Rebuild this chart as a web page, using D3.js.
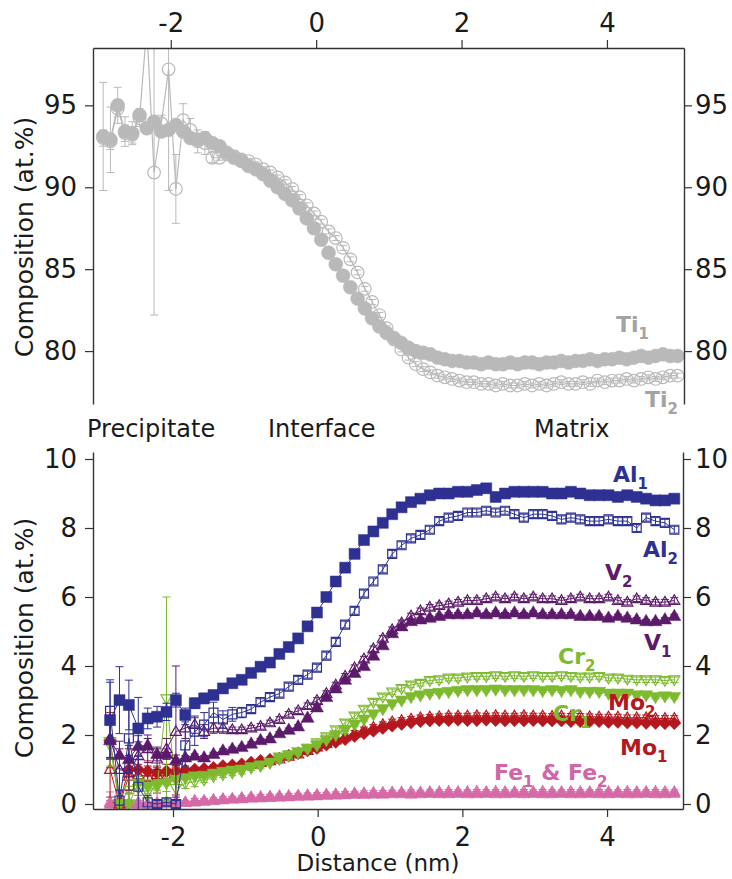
<!DOCTYPE html>
<html><head><meta charset="utf-8">
<script src="https://cdn.jsdelivr.net/npm/d3@7"></script>
<style>body{margin:0;background:#fff}svg{display:block}</style>
</head><body>
<script>
// ---------- DATA ----------
const topX = [-2.93,-2.83,-2.73,-2.63,-2.53,-2.43,-2.33,-2.23,-2.13,-2.03,-1.93,-1.83,-1.73,-1.63,-1.53,-1.43,-1.33,-1.23,-1.13,-1.03,-0.93,-0.83,-0.73,-0.63,-0.53,-0.43,-0.33,-0.23,-0.13,-0.03,0.07,0.17,0.27,0.37,0.47,0.57,0.67,0.77,0.87,0.97,1.07,1.17,1.27,1.37,1.47,1.57,1.67,1.77,1.87,1.97,2.07,2.17,2.27,2.37,2.47,2.57,2.67,2.77,2.87,2.97,3.07,3.17,3.27,3.37,3.47,3.57,3.67,3.77,3.87,3.97,4.07,4.17,4.27,4.37,4.47,4.57,4.67,4.77,4.87,4.97];
const ti1 = [93.1,92.9,95.0,93.4,93.3,94.4,93.6,94.0,93.4,93.5, 93.8,93.4,93.0,92.9,93.0,92.7,92.5,92.1,91.8,91.6, 91.3,91.1,90.8,90.4,90.0,89.6,89.2,88.7,88.1,87.5, 86.8,86.0,85.3,84.6,83.9,83.2,82.6,82.0,81.5,81.1, 80.8,80.5,80.2,80.0,79.9,79.8,79.6,79.5,79.4,79.4, 79.3,79.3,79.2,79.3,79.2,79.2,79.3,79.2,79.3,79.3, 79.2,79.3,79.3,79.4,79.3,79.4,79.4,79.5,79.4,79.5, 79.5,79.6,79.5,79.6,79.7,79.6,79.7,79.8,79.7,79.7];
const ti2 = [93.0,92.8,94.8,93.3,93.2,94.2,99.8,90.9,93.9,97.2, 89.9,94.1,93.5,92.8,92.7,91.8,91.8,92.0,91.9,91.7, 91.6,91.4,91.1,90.9,90.6,90.3,89.9,89.4,88.9,88.4, 87.9,87.3,86.9,86.3,85.6,84.8,83.8,83.0,82.2,81.4, 80.7,80.1,79.6,79.2,78.9,78.7,78.5,78.4,78.3,78.2, 78.1,78.1,78.0,78.0,77.9,78.0,77.9,77.9,78.0,77.9, 78.0,77.9,78.0,78.1,78.0,78.0,78.1,78.0,78.2,78.1, 78.2,78.2,78.3,78.2,78.3,78.4,78.3,78.4,78.5,78.5];
// error bars listed for the first bins; later bins use the small default
const ti1Err = [3.3,2.0,1.1,0.9,0.7,0.4,0.3,0.3,0.3,0.3,0.3,0.3,0.3,0.3,0.3];
const ti2Err = [0.5,0.5,0.5,0.5,0.5,0.5,0,8.7,0.5,7.4,2.1,1.0,0.7,0.7,0.7,0.3];
const tiErrDefault = 0.15;

const botX = [-2.87,-2.74,-2.61,-2.48,-2.35,-2.22,-2.09,-1.96,-1.83,-1.70,-1.57,-1.44,-1.31,-1.18,-1.05,-0.92,-0.79,-0.66,-0.53,-0.40,-0.27,-0.14,-0.01,0.12,0.25,0.38,0.51,0.64,0.77,0.90,1.03,1.16,1.29,1.42,1.55,1.68,1.81,1.94,2.07,2.20,2.33,2.46,2.59,2.72,2.85,2.98,3.11,3.24,3.37,3.50,3.63,3.76,3.89,4.02,4.15,4.28,4.41,4.54,4.67,4.80,4.93];
const al1 = [2.43,3.01,2.87,2.19,2.48,2.53,2.67,3.01,2.58,2.92, 3.06,3.16,3.35,3.5,3.6,3.8,3.98,4.1,4.35,4.55, 4.8,5.15,5.55,6.0,6.45,6.85,7.25,7.65,7.9,8.15, 8.4,8.6,8.75,8.85,8.95,9.0,9.0,9.05,9.05,9.1, 9.15,8.9,9.0,9.05,9.05,9.05,9.05,9.0,9.0,9.05, 9.0,8.95,8.95,8.95,8.9,8.95,8.9,8.85,8.8,8.8, 8.85];
const al2 = [2.7,0.1,1.9,0.5,0.05,0.0,0.05,0.0,1.7,2.1, 2.3,2.65,2.45,2.6,2.65,2.75,2.95,3.1,3.2,3.4, 3.6,3.75,3.95,4.3,4.7,5.2,5.6,6.1,6.45,6.8, 7.25,7.5,7.7,7.8,7.95,8.2,8.3,8.35,8.45,8.45, 8.5,8.45,8.5,8.4,8.3,8.4,8.4,8.35,8.25,8.3, 8.25,8.2,8.2,8.25,8.2,8.2,8.0,8.3,8.2,8.15, 7.95];
const v1 = [1.85,1.42,1.3,1.68,1.7,1.45,1.45,1.27,1.35,1.4, 1.35,1.45,1.55,1.6,1.65,1.75,1.85,1.9,2.05,2.15, 2.25,2.5,2.8,3.1,3.35,3.6,3.8,4.0,4.3,4.6, 4.95,5.15,5.3,5.35,5.4,5.45,5.5,5.5,5.5,5.55, 5.5,5.55,5.5,5.55,5.5,5.55,5.5,5.5,5.5,5.5, 5.45,5.45,5.45,5.4,5.45,5.4,5.35,5.3,5.3,5.35, 5.45];
const v2 = [1.9,1.0,0.9,1.4,1.6,1.3,1.6,2.1,2.2,2.3, 2.1,2.2,2.2,2.15,2.15,2.2,2.25,2.35,2.45,2.6, 2.7,2.85,3.0,3.2,3.45,3.7,3.95,4.2,4.5,4.8, 5.05,5.25,5.45,5.6,5.7,5.75,5.8,5.85,5.9,5.9, 5.95,6.0,5.95,6.0,5.95,6.0,5.95,5.95,5.9,5.95, 6.0,5.95,5.95,6.0,5.9,5.85,5.95,5.9,5.85,5.85, 5.9];
const cr1 = [1.8,0.0,0.0,0.6,0.5,0.55,0.6,0.7,0.75,0.8, 0.82,0.88,0.93,0.97,1.0,1.07,1.12,1.2,1.35,1.42, 1.5,1.6,1.7,1.85,2.0,2.15,2.3,2.45,2.6,2.75, 2.9,3.0,3.1,3.15,3.2,3.22,3.25,3.28,3.3,3.3, 3.3,3.32,3.3,3.3,3.3,3.3,3.28,3.3,3.28,3.3, 3.25,3.25,3.25,3.2,3.2,3.2,3.15,3.15,3.1,3.12, 3.1];
const cr2 = [1.7,0.0,0.4,0.45,0.35,0.5,3.05,0.45,0.6,0.65, 0.7,0.8,0.85,0.9,0.95,1.05,1.1,1.2,1.3,1.4, 1.5,1.62,1.78,1.95,2.15,2.35,2.55,2.75,2.95,3.1, 3.25,3.35,3.45,3.5,3.58,3.6,3.65,3.65,3.68,3.7, 3.7,3.72,3.7,3.72,3.7,3.72,3.7,3.7,3.72,3.7, 3.68,3.68,3.7,3.65,3.65,3.62,3.6,3.6,3.6,3.58, 3.6];
const mo1 = [1.85,0.05,1.0,1.0,0.95,0.9,0.95,0.95,0.98,1.0, 1.02,1.05,1.1,1.12,1.15,1.2,1.25,1.28,1.32,1.4, 1.47,1.55,1.62,1.72,1.8,1.88,1.97,2.05,2.12,2.2, 2.27,2.32,2.36,2.4,2.42,2.43,2.43,2.44,2.43,2.43, 2.44,2.43,2.42,2.43,2.42,2.43,2.42,2.42,2.42,2.4, 2.4,2.4,2.4,2.38,2.38,2.36,2.36,2.35,2.35,2.34, 2.34];
const mo2 = [1.0,0.0,0.8,0.85,0.8,0.85,0.8,0.9,0.95,0.95, 0.98,1.0,1.05,1.08,1.12,1.15,1.2,1.25,1.3,1.38, 1.45,1.55,1.65,1.75,1.85,1.95,2.05,2.15,2.22,2.3, 2.38,2.42,2.46,2.5,2.52,2.53,2.55,2.55,2.55,2.56, 2.55,2.56,2.55,2.55,2.56,2.55,2.55,2.54,2.55,2.54, 2.54,2.53,2.52,2.52,2.52,2.5,2.5,2.5,2.48,2.48, 2.48];
const fe1 = [0.0,0.0,0.0,0.0,0.02,0.0,0.03,0.04,0.05,0.06, 0.08,0.1,0.12,0.14,0.15,0.17,0.18,0.19,0.2,0.21, 0.22,0.23,0.24,0.25,0.26,0.27,0.28,0.28,0.29,0.29, 0.3,0.3,0.29,0.3,0.31,0.3,0.3,0.31,0.3,0.3, 0.31,0.3,0.3,0.31,0.3,0.31,0.3,0.3,0.31,0.3, 0.3,0.31,0.3,0.3,0.31,0.3,0.3,0.31,0.3,0.3, 0.31];
const fe2 = [0.05,0.0,0.02,0.05,0.0,0.04,0.06,0.08,0.05,0.1, 0.1,0.12,0.15,0.16,0.18,0.2,0.21,0.22,0.23,0.24, 0.25,0.26,0.27,0.28,0.29,0.3,0.31,0.32,0.33,0.33, 0.34,0.34,0.35,0.34,0.35,0.35,0.36,0.35,0.35,0.36, 0.35,0.36,0.35,0.35,0.36,0.35,0.36,0.35,0.35,0.36, 0.35,0.35,0.36,0.35,0.35,0.36,0.35,0.35,0.36,0.35, 0.35];
const al1Err = [1.1,0.97,0.72,0.9,0.3,0.3,0.25,0.2,0.2,0.15,0.15,0.1];
const al2Err = [0.9,0.3,1.0,0.8,0.2,0.1,0.1,0.1,0.6,0.4,0.35,0.3,0.25,0.2,0.15];
const v1Err = [0.5,0.4,0.4,0.3,0.2,0.2,0.15,0.15];
const v2Err = [0.6,0.6,0.5,0.4,0.4,0.3,0.3,1.9,0.3,0.25,0.2,0.15,0.15];
const cr1Err = [0.5,0.3,0.3,0.2,0.2,0.15];
const cr2Err = [0.6,0.3,0.3,0.2,0.2,0.2,2.95,0.2,0.15,0.15];
const mo1Err = [0.8,0.3,0.6,0.4,0.3,0.2,0.2,0.15];
const mo2Err = [0.8,0.3,0.5,0.3,0.3,0.2,0.2,0.15];
const fe1Err = [0.1,0.1,0.1,0.1];
const fe2Err = [0.3,0.2,0.3,0.2,0.2,0.3,0.3,0.2];

const xTicks = [-2,0,2,4];
const topYTicks = [80,85,90,95];
const botYTicks = [0,2,4,6,8,10];
const regionLabels = ["Precipitate","Interface","Matrix"];

// ---------- DRAWING ----------
const FONT = "'DejaVu Sans', Verdana, sans-serif";
const AX = "#333";
const svg = d3.select("body").append("svg").attr("width",732).attr("height",879);
const defs = svg.append("defs");
defs.append("clipPath").attr("id","clipT").append("rect").attr("x",93).attr("y",48).attr("width",591).attr("height",356);
defs.append("clipPath").attr("id","clipB").append("rect").attr("x",93).attr("y",452).attr("width",590).attr("height",357);

const xT = d3.scaleLinear().domain([-3.07,5.06]).range([93,684]);
const yT = d3.scaleLinear().domain([76.77,98.5]).range([404,48]);
const xB = d3.scaleLinear().domain([-3.106,5.05]).range([93,683]);
const yB = d3.scaleLinear().domain([-0.145,10.203]).range([809,452]);
const fmt = d => String(d);

const shapes = {
  circle: r => `M${-r},0A${r},${r} 0 1,0 ${r},0A${r},${r} 0 1,0 ${-r},0Z`,
  square: s => `M${-s},${-s}H${s}V${s}H${-s}Z`,
  triUp: s => `M0,${-s*1.05}L${s},${s*0.7}L${-s},${s*0.7}Z`,
  triDown: s => `M0,${s*1.05}L${s},${-s*0.7}L${-s},${-s*0.7}Z`,
  diamond: s => `M0,${-s}L${s},0L0,${s}L${-s},0Z`
};

function drawSeries(g, x, y, xs, vals, errs, errDef, o) {
  const pts = xs.map((xv,i)=>({x:xv, v:vals[i], e:(i<errs.length?errs[i]:errDef)}));
  const sg = g.append("g");
  sg.append("path").datum(pts)
    .attr("d", d3.line().x(d=>x(d.x)).y(d=>y(d.v)))
    .attr("fill","none").attr("stroke",o.color).attr("stroke-width",o.lw||1);
  const cw = o.cap||4;
  const eb = sg.append("g").attr("stroke",o.color).attr("stroke-width",1).attr("fill","none");
  pts.filter(d=>d.e>0).forEach(d=>{
    const px=x(d.x), y1=y(d.v+d.e), y2=y(d.v-d.e);
    eb.append("path").attr("d",`M${px},${y1}V${y2}M${px-cw},${y1}H${px+cw}M${px-cw},${y2}H${px+cw}`);
  });
  sg.append("g").selectAll("path").data(pts).join("path")
    .attr("transform",d=>`translate(${x(d.x)},${y(d.v)})`)
    .attr("d",shapes[o.shape](o.size))
    .attr("fill",o.open?"none":o.color)
    .attr("stroke",o.color).attr("stroke-width",o.open?1.2:0.5);
}

function styleAxis(sel){
  sel.select(".domain").attr("stroke",AX).attr("stroke-width",1.4);
  sel.selectAll(".tick line").attr("stroke",AX).attr("stroke-width",1.2);
  sel.selectAll(".tick text").attr("font-family",FONT).attr("font-size",26).attr("fill","#1a1a1a");
}

// ----- top panel -----
const gT = svg.append("g");
const dT = gT.append("g").attr("clip-path","url(#clipT)");
const tiColor = "#b9b9b9";
drawSeries(dT, xT, yT, topX, ti1, ti1Err, tiErrDefault, {color:tiColor, shape:"circle", size:7, cap:4, lw:1.2});
drawSeries(dT, xT, yT, topX, ti2, ti2Err, tiErrDefault, {color:tiColor, shape:"circle", size:6.3, open:true, cap:4, lw:1.2});

gT.append("g").attr("transform","translate(0,48)")
  .call(d3.axisTop(xT).tickValues(xTicks).tickSize(8).tickPadding(8).tickSizeOuter(0).tickFormat(fmt))
  .call(styleAxis);
gT.append("g").attr("transform","translate(93,0)")
  .call(d3.axisLeft(yT).tickValues(topYTicks).tickSize(8).tickPadding(8).tickSizeOuter(0).tickFormat(fmt))
  .call(styleAxis);
gT.append("g").attr("transform","translate(684,0)")
  .call(d3.axisRight(yT).tickValues(topYTicks).tickSize(8).tickPadding(3).tickSizeOuter(0).tickFormat(fmt))
  .call(styleAxis);

svg.append("text").attr("transform","translate(33,237) rotate(-90)").attr("text-anchor","middle")
  .attr("font-family",FONT).attr("font-size",25).attr("fill","#1a1a1a").text("Composition (at.%)");

const regionX = [87,268,534];
regionLabels.forEach((t,i)=>svg.append("text").attr("x",regionX[i]).attr("y",437)
  .attr("font-family",FONT).attr("font-size",24).attr("fill","#1a1a1a").text(t));

// ----- bottom panel -----
const gB = svg.append("g");
const dB = gB.append("g").attr("clip-path","url(#clipB)");
const C = {al:"#2e3192", v:"#5c1a6b", cr:"#7dba2f", mo:"#b4181e", fe:"#d56aa7"};
drawSeries(dB, xB, yB, botX, fe1, fe1Err, 0.04, {color:C.fe, shape:"triUp", size:6});
drawSeries(dB, xB, yB, botX, fe2, fe2Err, 0.06, {color:C.fe, shape:"triUp", size:5.5, open:true});
drawSeries(dB, xB, yB, botX, mo1, mo1Err, 0.05, {color:C.mo, shape:"diamond", size:6.5});
drawSeries(dB, xB, yB, botX, mo2, mo2Err, 0.08, {color:C.mo, shape:"triUp", size:5.5, open:true});
drawSeries(dB, xB, yB, botX, cr1, cr1Err, 0.05, {color:C.cr, shape:"triDown", size:6.5});
drawSeries(dB, xB, yB, botX, cr2, cr2Err, 0.08, {color:C.cr, shape:"triDown", size:5.5, open:true});
drawSeries(dB, xB, yB, botX, v1, v1Err, 0.05, {color:C.v, shape:"triUp", size:6.5});
drawSeries(dB, xB, yB, botX, v2, v2Err, 0.08, {color:C.v, shape:"triUp", size:5.5, open:true});
drawSeries(dB, xB, yB, botX, al1, al1Err, 0.05, {color:C.al, shape:"square", size:5.5});
drawSeries(dB, xB, yB, botX, al2, al2Err, 0.1, {color:C.al, shape:"square", size:4.5, open:true});

gB.append("g").attr("transform","translate(0,809)")
  .call(d3.axisBottom(xB).tickValues(xTicks).tickSize(8).tickPadding(11).tickSizeOuter(0).tickFormat(fmt))
  .call(styleAxis);
gB.append("g").attr("transform","translate(93,0)")
  .call(d3.axisLeft(yB).tickValues(botYTicks).tickSize(8).tickPadding(8).tickSizeOuter(0).tickFormat(fmt))
  .call(styleAxis);
gB.append("g").attr("transform","translate(683,0)")
  .call(d3.axisRight(yB).tickValues(botYTicks).tickSize(8).tickPadding(4).tickSizeOuter(0).tickFormat(fmt))
  .call(styleAxis);

svg.append("text").attr("transform","translate(33,638) rotate(-90)").attr("text-anchor","middle")
  .attr("font-family",FONT).attr("font-size",25).attr("fill","#1a1a1a").text("Composition (at.%)");
svg.append("text").attr("x",378).attr("y",871).attr("text-anchor","middle")
  .attr("font-family",FONT).attr("font-size",23).attr("fill","#1a1a1a").text("Distance (nm)");

// ----- series labels -----
function label(x, y, parts, color){
  const t = svg.append("text").attr("x",x).attr("y",y).attr("font-family",FONT)
    .attr("font-size",22).attr("font-weight","bold").attr("fill",color);
  parts.forEach(p=>{
    if (p.sub) t.append("tspan").attr("font-size",15).attr("dy",7).text(p.sub);
    else t.append("tspan").attr("dy",p.after?-7:0).text(p.t);
  });
}
label(616,332,[{t:"Ti"},{sub:"1"}],"#a3a3a3");
label(645,407,[{t:"Ti"},{sub:"2"}],"#a3a3a3");
label(613,482,[{t:"Al"},{sub:"1"}],C.al);
label(643,557,[{t:"Al"},{sub:"2"}],C.al);
label(605,580,[{t:"V"},{sub:"2"}],C.v);
label(644,650,[{t:"V"},{sub:"1"}],C.v);
label(558,664,[{t:"Cr"},{sub:"2"}],C.cr);
label(553,721,[{t:"Cr"},{sub:"1"}],C.cr);
label(608,710,[{t:"Mo"},{sub:"2"}],C.mo);
label(620,755,[{t:"Mo"},{sub:"1"}],C.mo);
label(494,780,[{t:"Fe"},{sub:"1"},{t:" & Fe",after:true},{sub:"2"}],"#d065a8");
</script>
</body></html>
